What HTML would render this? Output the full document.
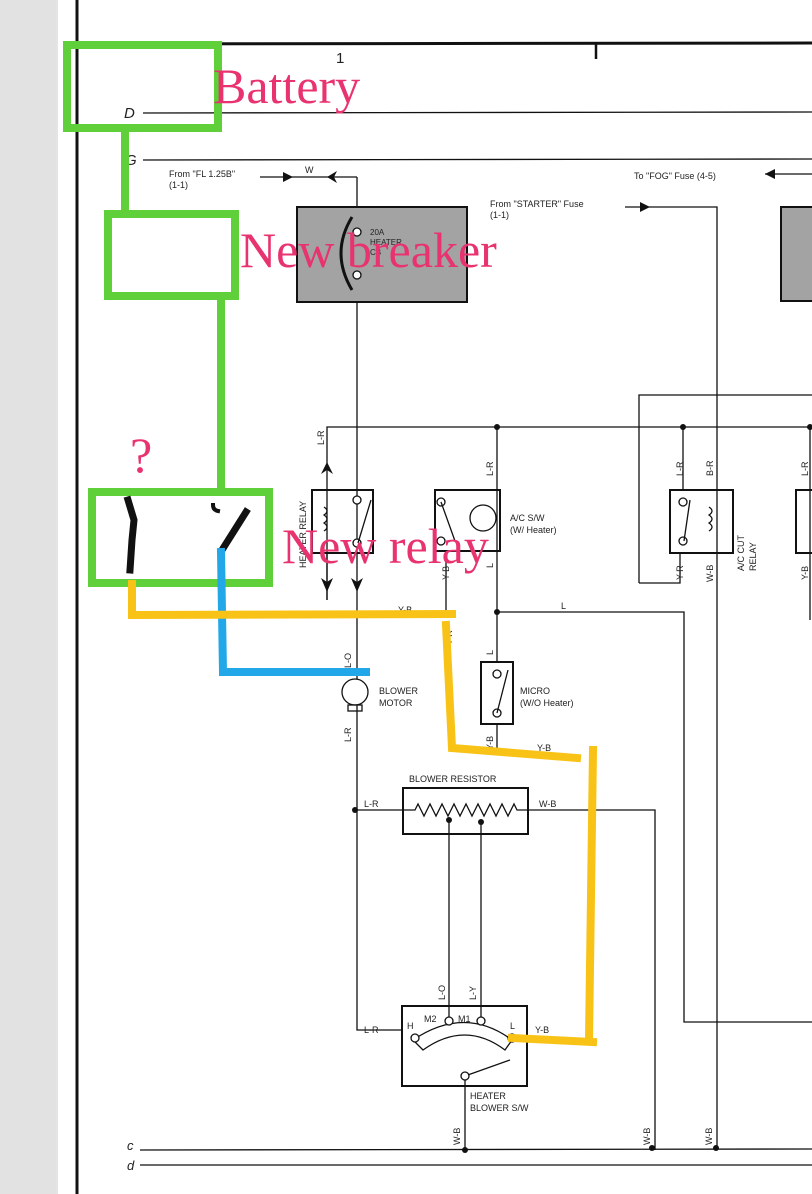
<!DOCTYPE html>
<html><head><meta charset="utf-8"><style>
html,body{margin:0;padding:0;background:#fff;}
svg{display:block;}
text{font-family:"Liberation Sans",sans-serif;fill:#222;}
.p{font-family:"Liberation Serif",serif;fill:#e8336e;font-size:50px;}
</style></head><body>
<svg width="812" height="1194" viewBox="0 0 812 1194" xmlns="http://www.w3.org/2000/svg">
<rect x="0" y="0" width="56" height="1194" fill="#e2e2e2"/>
<line x1="57" y1="0" x2="57" y2="1194" stroke="#c8c8c8" stroke-width="1"/>
<g stroke="#111" fill="none">
<line x1="77" y1="0" x2="77" y2="1194" stroke-width="3"/>
<line x1="77" y1="44" x2="812" y2="43" stroke-width="3"/>
<line x1="596" y1="43" x2="596" y2="59" stroke-width="2.5"/>
<g stroke-width="1.3">
<line x1="143" y1="113" x2="812" y2="112"/>
<line x1="143" y1="160" x2="812" y2="159"/>
<line x1="140" y1="1150" x2="812" y2="1149"/>
<line x1="140" y1="1165" x2="812" y2="1165"/>
<line x1="260" y1="177" x2="357" y2="177"/>
<polyline points="357,177 357,1030 402,1030"/>
<rect x="297" y="207" width="170" height="95" fill="#a3a3a3" stroke-width="2"/>
<polyline points="327,600 327,427 812,427"/>
<line x1="497" y1="427" x2="497" y2="662"/>
<line x1="446" y1="551" x2="446" y2="615"/>
<polyline points="497,612 684,612 684,1022 812,1022"/>
<line x1="683" y1="427" x2="683" y2="490"/>
<polyline points="639,583 639,395 812,395"/>
<polyline points="639,583 680,583 680,553"/>
<polyline points="625,207 717,207 717,1150"/>
<line x1="765" y1="174" x2="812" y2="174"/>
<line x1="810" y1="427" x2="810" y2="620"/>
<rect x="312" y="490" width="61" height="63" stroke-width="2"/>
<rect x="435" y="490" width="65" height="61" stroke-width="2"/>
<rect x="670" y="490" width="63" height="63" stroke-width="2"/>
<rect x="796" y="490" width="20" height="63" stroke-width="2"/>
<rect x="781" y="207" width="40" height="94" fill="#a3a3a3" stroke-width="2"/>
<rect x="481" y="662" width="32" height="62" stroke-width="2"/>
<line x1="497" y1="724" x2="497" y2="750"/>
<circle cx="355" cy="692" r="13" fill="#fff"/>
<rect x="348" y="705" width="14" height="6"/>
<rect x="403" y="788" width="125" height="46" stroke-width="2"/>
<polyline points="355,810 415,810 418,804 424,816 430,804 436,816 442,804 448,816 454,804 460,816 466,804 472,816 478,804 484,816 490,804 496,816 502,804 508,816 514,804 517,810 655,810 655,1150"/>
<line x1="449" y1="820" x2="449" y2="1018"/>
<line x1="481" y1="820" x2="481" y2="1018"/>
<rect x="402" y="1006" width="125" height="80" stroke-width="2"/>
<path d="M413 1040 Q465 1005 512 1040 L505 1050 Q465 1020 423 1050 Z"/>
<line x1="465" y1="1076" x2="510" y2="1060"/>
<line x1="465" y1="1076" x2="465" y2="1150"/>
<line x1="327" y1="553" x2="327" y2="600"/>
</g>
<g fill="#fff" stroke-width="1.3">
<circle cx="357" cy="232" r="4"/><circle cx="357" cy="275" r="4"/>
<circle cx="357" cy="500" r="4"/><circle cx="357" cy="543" r="4"/>
<circle cx="441" cy="502" r="4"/><circle cx="441" cy="541" r="4"/>
<circle cx="483" cy="518" r="13"/>
<circle cx="683" cy="502" r="4"/><circle cx="683" cy="541" r="4"/>
<circle cx="497" cy="674" r="4"/><circle cx="497" cy="713" r="4"/>
<circle cx="415" cy="1038" r="4"/><circle cx="449" cy="1021" r="4"/><circle cx="481" cy="1021" r="4"/><circle cx="512" cy="1038" r="4"/><circle cx="465" cy="1076" r="4"/>
</g>
<path d="M352 217 Q330 253 352 290" stroke-width="3"/>
<line x1="358" y1="543" x2="371" y2="500" stroke-width="1.3"/>
<line x1="441" y1="502" x2="455" y2="541" stroke-width="1.3"/>
<line x1="684" y1="541" x2="690" y2="500" stroke-width="1.3"/>
<line x1="497" y1="713" x2="508" y2="670" stroke-width="1.3"/>
<path d="M324 507 q6 4 0 8 q6 4 0 8 q6 4 0 8" stroke-width="1.3"/>
<path d="M709 507 q6 4 0 8 q6 4 0 8 q6 4 0 8" stroke-width="1.3"/>
</g>
<g fill="#111">
<path d="M283 172 L293 177 L283 182 Z"/><path d="M327 177 L337 171 L334 177 L337 183 Z"/>
<path d="M640 202 L650 207 L640 212 Z"/><path d="M765 174 L775 169 L775 179 Z"/>
<path d="M327 462 L321 474 L327 470 L333 474 Z"/>
<path d="M327 592 L321 578 L327 582 L333 578 Z"/><path d="M357 592 L351 578 L357 582 L363 578 Z"/>
<circle cx="497" cy="427" r="3"/><circle cx="683" cy="427" r="3"/><circle cx="810" cy="427" r="3"/>
<circle cx="497" cy="612" r="3"/><circle cx="355" cy="810" r="3"/>
<circle cx="449" cy="820" r="3"/><circle cx="481" cy="822" r="3"/>
<circle cx="465" cy="1150" r="3"/><circle cx="652" cy="1148" r="3"/><circle cx="716" cy="1148" r="3"/>
</g>
<g font-size="9">
<text x="336" y="63" font-size="15">1</text>
<text x="124" y="118" font-size="15" font-style="italic" font-family="Liberation Serif">D</text>
<text x="125" y="165" font-size="15" font-style="italic" font-family="Liberation Serif">G</text>
<text x="127" y="1150" font-size="13" font-style="italic" font-family="Liberation Serif">c</text>
<text x="127" y="1170" font-size="13" font-style="italic" font-family="Liberation Serif">d</text>
<text x="169" y="177">From "FL 1.25B"</text><text x="169" y="188">(1-1)</text>
<text x="305" y="173">W</text>
<text x="490" y="207">From "STARTER" Fuse</text><text x="490" y="218">(1-1)</text>
<text x="634" y="179">To "FOG" Fuse (4-5)</text>
<text x="370" y="235" font-size="8">20A</text><text x="370" y="245" font-size="8">HEATER</text><text x="370" y="255" font-size="8">CB</text>
<text x="510" y="521">A/C S/W</text><text x="510" y="533">(W/ Heater)</text>
<text x="379" y="694">BLOWER</text><text x="379" y="706">MOTOR</text>
<text x="520" y="694">MICRO</text><text x="520" y="706">(W/O Heater)</text>
<text x="409" y="782">BLOWER RESISTOR</text>
<text x="364" y="807">L-R</text><text x="539" y="807">W-B</text>
<text x="364" y="1033">L-R</text><text x="535" y="1033">Y-B</text>
<text x="407" y="1029">H</text><text x="424" y="1022">M2</text><text x="458" y="1022">M1</text><text x="510" y="1029">L</text>
<text x="470" y="1099">HEATER</text><text x="470" y="1111">BLOWER S/W</text>
<text x="398" y="613">Y-B</text><text x="561" y="609">L</text><text x="537" y="751">Y-B</text>
<g transform="rotate(-90)">
<text x="-445" y="324">L-R</text><text x="-568" y="306">HEATER RELAY</text>
<text x="-476" y="493">L-R</text><text x="-580" y="449">Y-B</text><text x="-568" y="493">L</text>
<text x="-655" y="493">L</text><text x="-750" y="493">Y-B</text>
<text x="-668" y="351">L-O</text><text x="-742" y="351">L-R</text><text x="-645" y="452">Y-R</text>
<text x="-476" y="683">L-R</text><text x="-476" y="713">B-R</text>
<text x="-580" y="683">Y-R</text><text x="-582" y="713">W-B</text>
<text x="-571" y="744">A/C CUT</text><text x="-571" y="756">RELAY</text>
<text x="-476" y="808">L-R</text><text x="-580" y="808">Y-B</text>
<text x="-1000" y="445">L-O</text><text x="-1000" y="476">L-Y</text>
<text x="-1145" y="460">W-B</text><text x="-1145" y="650">W-B</text><text x="-1145" y="712">W-B</text>
</g>
</g>
<g fill="none" stroke-linecap="square">
<g stroke="#5fd03a" stroke-width="8">
<rect x="67" y="45" width="151" height="83"/>
<line x1="125" y1="130" x2="125" y2="213"/>
<rect x="108" y="214" width="127" height="82"/>
<line x1="221" y1="297" x2="221" y2="488"/>
<rect x="92" y="492" width="177" height="91"/>
</g>
<path d="M128 500 L134 520 L132 540 L130 570" stroke="#111" stroke-width="7"/>
<path d="M246 512 L222 550" stroke="#111" stroke-width="7"/>
<path d="M213 505 q0 5 5 6" stroke="#111" stroke-width="4"/>
<polyline points="221,552 223,672 366,672" stroke="#22a7e8" stroke-width="8"/>
<g stroke="#f8c316" stroke-width="8">
<polyline points="132,584 132,615 452,614"/>
<polyline points="446,625 452,748 577,758"/>
<line x1="593" y1="750" x2="589" y2="1040"/>
<line x1="512" y1="1038" x2="593" y2="1042"/>
</g>
</g>
<text class="p" x="213" y="103">Battery</text>
<text class="p" x="240" y="267">New breaker</text>
<text class="p" x="282" y="563">New relay</text>
<text class="p" x="130" y="472" font-size="38">?</text>
</svg>
</body></html>
